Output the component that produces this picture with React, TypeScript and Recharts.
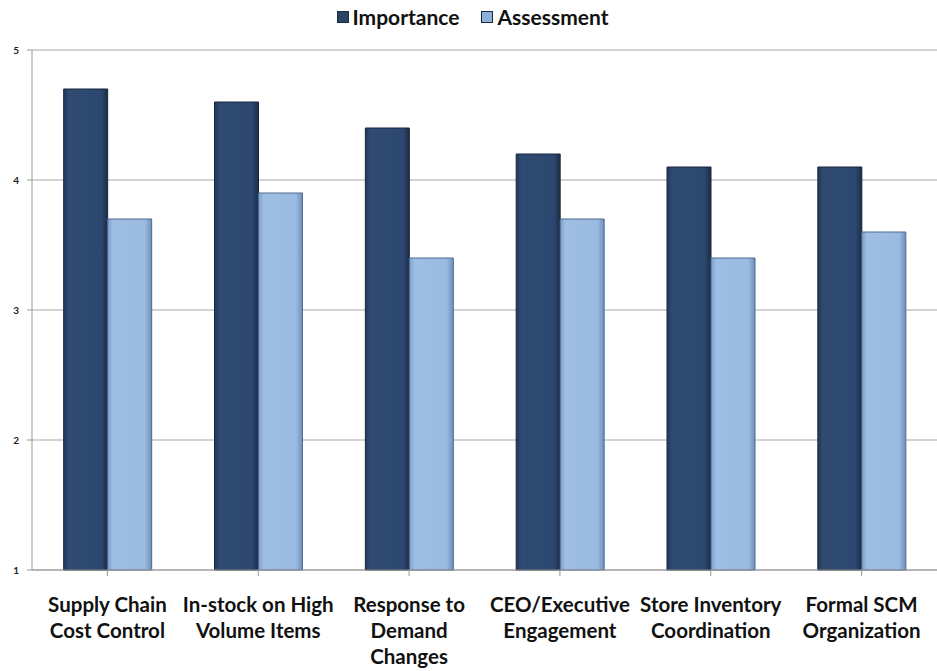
import React from "react";
import {
  BarChart,
  Bar,
  XAxis,
  YAxis,
  CartesianGrid,
} from "recharts";

const categories = [
  "Supply Chain Cost Control",
  "In-stock on High Volume Items",
  "Response to Demand Changes",
  "CEO/Executive Engagement",
  "Store Inventory Coordination",
  "Formal SCM Organization",
];

const tickLines: string[][] = [
  ["Supply Chain", "Cost Control"],
  ["In-stock on High", "Volume Items"],
  ["Response to", "Demand", "Changes"],
  ["CEO/Executive", "Engagement"],
  ["Store Inventory", "Coordination"],
  ["Formal SCM", "Organization"],
];

const importance = [4.7, 4.6, 4.4, 4.2, 4.1, 4.1];
const assessment = [3.7, 3.9, 3.4, 3.7, 3.4, 3.6];
const yTicks = [1, 2, 3, 4, 5];

const data = categories.map((name, i) => ({
  name,
  importance: importance[i],
  assessment: assessment[i],
}));

const FONT = "Lato, 'Open Sans', sans-serif";

function CategoryTick(props: any) {
  const { x, y, payload } = props;
  const idx = categories.indexOf(payload.value);
  const lines = tickLines[idx] ?? [payload.value];
  return (
    <g transform={`translate(${x},${y})`}>
      {lines.map((line, i) => (
        <text
          key={i}
          x={0}
          y={34 + i * 26}
          textAnchor="middle"
          fill="#111"
          fontSize={20.5}
          fontWeight={700}
          fontFamily={FONT}
        >
          {line}
        </text>
      ))}
    </g>
  );
}

function LegendBox() {
  const items = [
    { label: "Importance", color: "#2b4466" },
    { label: "Assessment", color: "#8fb0d9" },
  ];
  return (
    <div
      style={{
        position: "absolute",
        top: 4,
        left: 0,
        width: 937,
        display: "flex",
        justifyContent: "center",
        gap: 22,
        fontFamily: FONT,
        fontWeight: 700,
        fontSize: 21,
        color: "#111",
        paddingLeft: 8,
        boxSizing: "border-box",
      }}
    >
      {items.map((it) => (
        <span key={it.label} style={{ display: "flex", alignItems: "center", gap: 4 }}>
          <span
            style={{
              width: 10,
              height: 10,
              background: it.color,
              border: "1px solid #1a2c44",
              display: "inline-block",
            }}
          />
          {it.label}
        </span>
      ))}
    </div>
  );
}

export default function App() {
  return (
    <div style={{ position: "absolute", left: 0, top: 0, width: 937, height: 671, background: "#fff" }}>
      <BarChart
        width={937}
        height={671}
        data={data}
        margin={{ top: 50, right: 0, left: 0, bottom: 0 }}
        barCategoryGap="21%"
        barGap={0}
      >
        <defs>
          <linearGradient id="darkGrad" x1="0" y1="0" x2="1" y2="0">
            <stop offset="0%" stopColor="#22395a" />
            <stop offset="12%" stopColor="#2f4b71" />
            <stop offset="85%" stopColor="#2d4870" />
            <stop offset="100%" stopColor="#1b2d47" />
          </linearGradient>
          <linearGradient id="lightGrad" x1="0" y1="0" x2="1" y2="0">
            <stop offset="0%" stopColor="#7f9fc8" />
            <stop offset="12%" stopColor="#9fbee4" />
            <stop offset="85%" stopColor="#9bbae1" />
            <stop offset="100%" stopColor="#6f8fb8" />
          </linearGradient>
        </defs>
        <CartesianGrid vertical={false} stroke="#a8a8a8" strokeWidth={1.2} />
        <XAxis
          dataKey="name"
          interval={0}
          tick={<CategoryTick />}
          axisLine={{ stroke: "#999" }}
          tickLine={{ stroke: "#999" }}
          tickSize={6}
          height={101}
        />
        <YAxis
          domain={[1, 5]}
          ticks={yTicks}
          width={32}
          axisLine={{ stroke: "#999" }}
          tickLine={{ stroke: "#999" }}
          tickSize={5}
          tick={{ fill: "#222", fontSize: 10, fontFamily: FONT, fontWeight: 700, dx: -6 }}
        />
        <Bar
          dataKey="importance"
          name="Importance"
          fill="url(#darkGrad)"
          stroke="#16263c"
          strokeWidth={1}
          isAnimationActive={false}
        />
        <Bar
          dataKey="assessment"
          name="Assessment"
          fill="url(#lightGrad)"
          stroke="#4d6a90"
          strokeWidth={1}
          isAnimationActive={false}
        />
      </BarChart>
      <LegendBox />
    </div>
  );
}
